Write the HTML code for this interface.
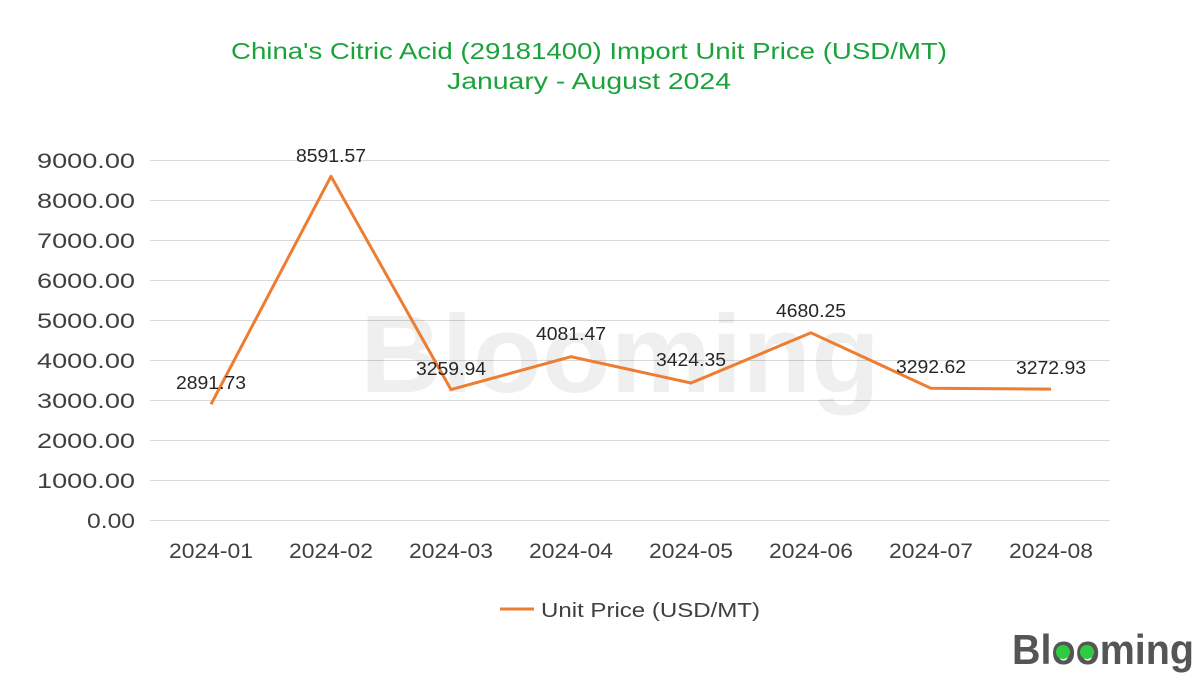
<!DOCTYPE html>
<html><head><meta charset="utf-8"><style>
body{margin:0;width:1200px;height:675px;background:#fff;overflow:hidden}
text{font-family:"Liberation Sans",sans-serif}
</style></head><body>
<svg width="1200" height="675" viewBox="0 0 1200 675">
<text x="589" y="59" text-anchor="middle" font-size="23" fill="#1aa33a" textLength="716" lengthAdjust="spacingAndGlyphs">China's Citric Acid (29181400) Import Unit Price (USD/MT)</text>
<text x="589" y="89" text-anchor="middle" font-size="23" fill="#1aa33a" textLength="284" lengthAdjust="spacingAndGlyphs">January - August 2024</text>
<g stroke="#d9d9d9" stroke-width="1">
<line x1="150" x2="1110" y1="160.5" y2="160.5"/><line x1="150" x2="1110" y1="200.5" y2="200.5"/>
<line x1="150" x2="1110" y1="240.5" y2="240.5"/><line x1="150" x2="1110" y1="280.5" y2="280.5"/>
<line x1="150" x2="1110" y1="320.5" y2="320.5"/><line x1="150" x2="1110" y1="360.5" y2="360.5"/>
<line x1="150" x2="1110" y1="400.5" y2="400.5"/><line x1="150" x2="1110" y1="440.5" y2="440.5"/>
<line x1="150" x2="1110" y1="480.5" y2="480.5"/><line x1="150" x2="1110" y1="520.5" y2="520.5"/>
</g>
<text x="620" y="392" text-anchor="middle" font-size="110" font-weight="bold" fill="#000" opacity="0.06" textLength="520" lengthAdjust="spacingAndGlyphs">Blooming</text>
<g font-size="21" fill="#404040" text-anchor="end">
<text x="135" y="168" textLength="98" lengthAdjust="spacingAndGlyphs">9000.00</text><text x="135" y="208" textLength="98" lengthAdjust="spacingAndGlyphs">8000.00</text><text x="135" y="248" textLength="98" lengthAdjust="spacingAndGlyphs">7000.00</text>
<text x="135" y="288" textLength="98" lengthAdjust="spacingAndGlyphs">6000.00</text><text x="135" y="328" textLength="98" lengthAdjust="spacingAndGlyphs">5000.00</text><text x="135" y="368" textLength="98" lengthAdjust="spacingAndGlyphs">4000.00</text>
<text x="135" y="408" textLength="98" lengthAdjust="spacingAndGlyphs">3000.00</text><text x="135" y="448" textLength="98" lengthAdjust="spacingAndGlyphs">2000.00</text><text x="135" y="488" textLength="98" lengthAdjust="spacingAndGlyphs">1000.00</text>
<text x="135" y="528" textLength="48" lengthAdjust="spacingAndGlyphs">0.00</text>
</g>
<g font-size="21" fill="#404040" text-anchor="middle">
<text x="211" y="558" textLength="84" lengthAdjust="spacingAndGlyphs">2024-01</text><text x="331" y="558" textLength="84" lengthAdjust="spacingAndGlyphs">2024-02</text><text x="451" y="558" textLength="84" lengthAdjust="spacingAndGlyphs">2024-03</text>
<text x="571" y="558" textLength="84" lengthAdjust="spacingAndGlyphs">2024-04</text><text x="691" y="558" textLength="84" lengthAdjust="spacingAndGlyphs">2024-05</text><text x="811" y="558" textLength="84" lengthAdjust="spacingAndGlyphs">2024-06</text>
<text x="931" y="558" textLength="84" lengthAdjust="spacingAndGlyphs">2024-07</text><text x="1051" y="558" textLength="84" lengthAdjust="spacingAndGlyphs">2024-08</text>
</g>
<polyline fill="none" stroke="#ed7d31" stroke-width="3" stroke-linejoin="round" points="211,404.3 331,176.3 451,389.6 571,356.7 691,383 811,332.8 931,388.3 1051,389.1"/>
<g font-size="18" fill="#262626" text-anchor="middle">
<text x="211" y="389" textLength="70" lengthAdjust="spacingAndGlyphs">2891.73</text><text x="331" y="162" textLength="70" lengthAdjust="spacingAndGlyphs">8591.57</text><text x="451" y="375" textLength="70" lengthAdjust="spacingAndGlyphs">3259.94</text>
<text x="571" y="340" textLength="70" lengthAdjust="spacingAndGlyphs">4081.47</text><text x="691" y="366" textLength="70" lengthAdjust="spacingAndGlyphs">3424.35</text><text x="811" y="317" textLength="70" lengthAdjust="spacingAndGlyphs">4680.25</text>
<text x="931" y="373" textLength="70" lengthAdjust="spacingAndGlyphs">3292.62</text><text x="1051" y="374" textLength="70" lengthAdjust="spacingAndGlyphs">3272.93</text>
</g>
<line x1="500" x2="534" y1="609" y2="609" stroke="#ed7d31" stroke-width="3"/>
<text x="541" y="617" font-size="20" fill="#404040" textLength="219" lengthAdjust="spacingAndGlyphs">Unit Price (USD/MT)</text>
<text x="1012" y="664" font-size="42" font-weight="bold" fill="#555" textLength="182" lengthAdjust="spacingAndGlyphs">Blooming</text>
<circle cx="1063" cy="652" r="7" fill="#2ecc40"/><circle cx="1087" cy="652" r="7" fill="#2ecc40"/>
</svg>
</body></html>
